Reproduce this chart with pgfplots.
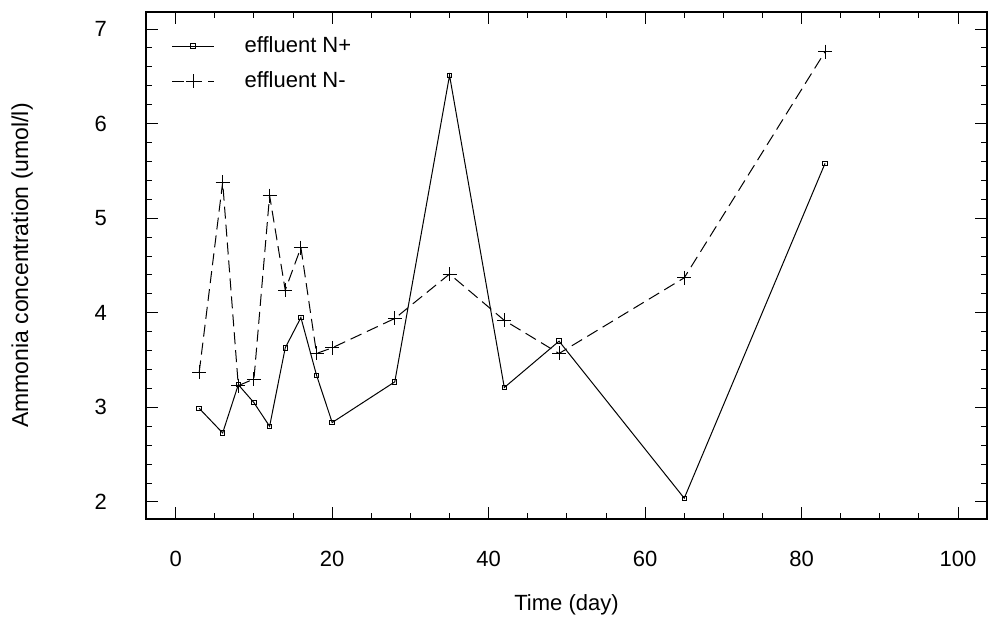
\documentclass[border=0pt]{standalone}
\usepackage{pgfplots}
\pgfplotsset{compat=1.18}
\usepackage{fontspec}
\setmainfont{Liberation Sans}
\begin{document}
\begin{tikzpicture}
\begin{axis}[
  scale only axis,
  width=420.5pt, height=253.5pt,
  xmin=-3.8, xmax=103.7,
  ymin=1.82, ymax=7.18,
  xtick={0,20,40,60,80,100},
  ytick={2,3,4,5,6,7},
  minor x tick num=3,
  minor y tick num=4,
  tick align=inside,
  major tick length=6pt,
  minor tick length=3pt,
  every tick/.style={black, line width=0.5pt},
  axis line style={line width=0.6pt},
  /pgf/number format/assume math mode=true,
  tick label style={font=\fontsize{11}{13}\selectfont},
  xticklabel style={yshift=-12.5pt},
  yticklabel style={xshift=-16pt},
  xlabel={Time (day)},
  ylabel={Ammonia concentration (umol/l)},
  label style={font=\fontsize{11}{13}\selectfont},
  ylabel style={font=\fontsize{11.5}{13}\selectfont, yshift=24pt},
  xlabel style={yshift=-7pt},
  legend style={draw=none, fill=none, at={(0.03,0.96)}, anchor=north west,
    font=\fontsize{11}{13}\selectfont, row sep=4pt, inner sep=0pt,
    nodes={inner xsep=3pt}},
  legend cell align=left,
  legend image code/.code={\draw[mark repeat=2,mark phase=2] plot coordinates {(0pt,0pt) (10.5pt,0pt) (21pt,0pt)}; \path (33pt,0pt);},
]
\addplot[black, line width=0.5pt, mark=square, mark size=1.1pt] coordinates {
(3,2.99) (6,2.73) (8,3.24) (10,3.05) (12,2.80) (14,3.63) (16,3.95) (18,3.34) (20,2.84)
(28,3.27) (35,6.51) (42,3.21) (49,3.70) (65,2.04) (83,5.58)
};
\addlegendentry{effluent N+}
\addplot[black, line width=0.5pt, dash pattern=on 6pt off 3pt, mark=+, mark size=3.5pt, mark options={solid}] coordinates {
(3,3.37) (6,5.38) (8,3.23) (10,3.30) (12,5.24) (14,4.24) (16,4.69) (18,3.57) (20,3.63)
(28,3.94) (35,4.41) (42,3.92) (49,3.57) (65,4.37) (83,6.76)
};
\addlegendentry{effluent N-}
\end{axis}
\pgfresetboundingbox
\path ([xshift=-73pt,yshift=-51.5pt]current axis.south west) rectangle ([xshift=2pt,yshift=6pt]current axis.north east);
\end{tikzpicture}
\end{document}
